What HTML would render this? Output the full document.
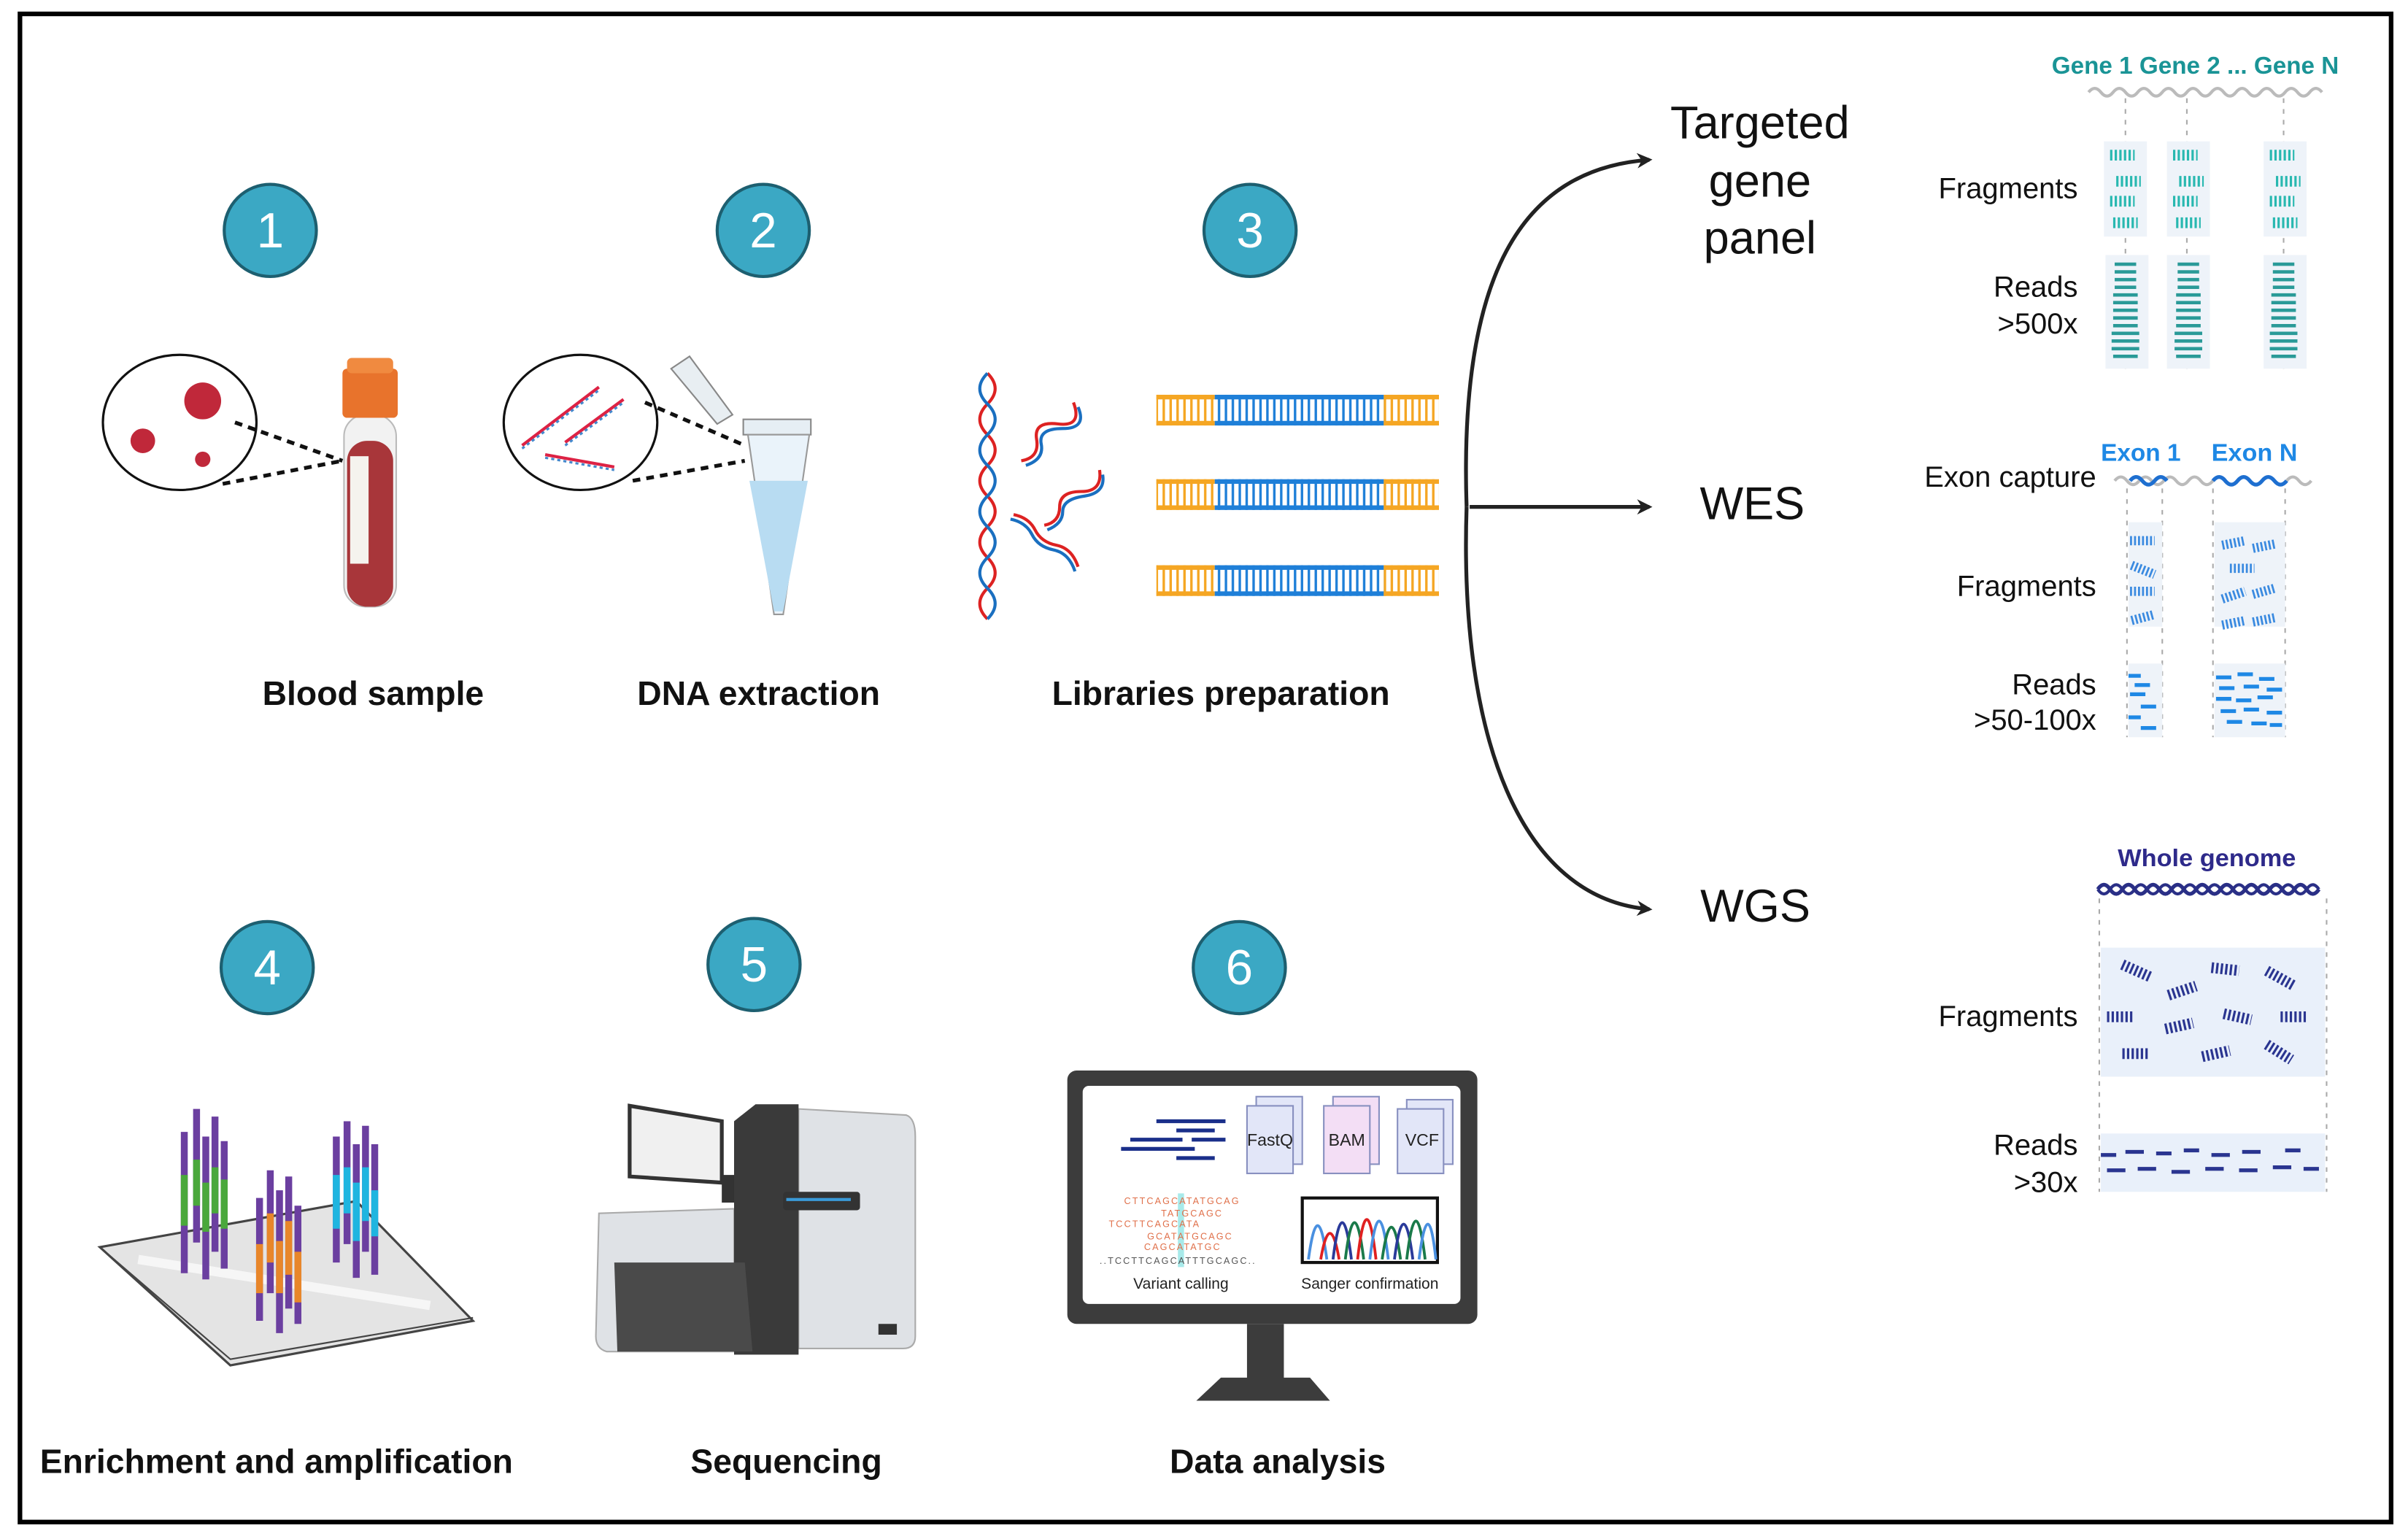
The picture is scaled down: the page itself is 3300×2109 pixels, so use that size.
<!DOCTYPE html>
<html><head><meta charset="utf-8"><style>
html,body{margin:0;padding:0;background:#fff}
svg{display:block}
text{font-family:"Liberation Sans",sans-serif}
</style></head><body>
<svg width="3300" height="2109" viewBox="0 0 1568 1002" xmlns="http://www.w3.org/2000/svg">
<defs>
<pattern id="rungO" width="4.5" height="30" patternUnits="userSpaceOnUse"><rect x="1" y="0" width="1.6" height="30" fill="#f5a623"/></pattern>
<pattern id="rungB" width="4.5" height="30" patternUnits="userSpaceOnUse"><rect x="1" y="0" width="1.6" height="30" fill="#1e7fd8"/></pattern>
<marker id="ah" markerWidth="10" markerHeight="10" refX="8" refY="5" orient="auto" markerUnits="userSpaceOnUse"><path d="M0,0 L10,5 L0,10 L3,5 Z" fill="#222"/></marker>
</defs>
<rect x="0" y="0" width="1568" height="1002" fill="#fff"/>
<rect x="13" y="9" width="1544" height="982" fill="none" stroke="#000" stroke-width="3"/>

<g fill="#3ba8c4" stroke="#1d5f70" stroke-width="2">
<circle cx="176" cy="150" r="30"/><circle cx="497" cy="150" r="30"/><circle cx="814" cy="150" r="30"/>
<circle cx="174" cy="630" r="30"/><circle cx="491" cy="628" r="30"/><circle cx="807" cy="630" r="30"/>
</g>
<g fill="#fff" font-size="32" text-anchor="middle">
<text x="176" y="161">1</text><text x="497" y="161">2</text><text x="814" y="161">3</text>
<text x="174" y="641">4</text><text x="491" y="639">5</text><text x="807" y="641">6</text>
</g>

<g font-size="22" font-weight="bold" text-anchor="middle" fill="#111">
<text x="243" y="459">Blood sample</text>
<text x="494" y="459">DNA extraction</text>
<text x="795" y="459">Libraries preparation</text>
<text x="180" y="959">Enrichment and amplification</text>
<text x="512" y="959">Sequencing</text>
<text x="832" y="959">Data analysis</text>
</g>

<ellipse cx="117" cy="275" rx="50" ry="44" fill="#fff" stroke="#111" stroke-width="1.5"/>
<circle cx="132" cy="261" r="12" fill="#c0283a"/>
<circle cx="93" cy="287" r="8" fill="#c0283a"/>
<circle cx="132" cy="299" r="5" fill="#c0283a"/>
<path d="M153,275 L223,300 M145,315 L223,300" stroke="#111" stroke-width="2.5" stroke-dasharray="5,4"/>
<rect x="224" y="270" width="34" height="125" rx="14" fill="#f2f2f2" stroke="#bbb"/>
<rect x="226" y="287" width="30" height="108" rx="13" fill="#a8363a"/>
<rect x="228" y="297" width="12" height="70" fill="#f5f3ee"/>
<rect x="223" y="240" width="36" height="32" rx="3" fill="#e8732c"/>
<rect x="226" y="233" width="30" height="10" rx="3" fill="#f08a40"/>

<ellipse cx="378" cy="275" rx="50" ry="44" fill="#fff" stroke="#111" stroke-width="1.5"/>
<path d="M340,290 l50,-38" stroke="#d24" stroke-width="2"/><path d="M340,292 l50,-38" stroke="#48c" stroke-width="1.5" stroke-dasharray="2,2"/>
<path d="M368,288 l38,-28" stroke="#d24" stroke-width="2"/><path d="M368,290 l38,-28" stroke="#48c" stroke-width="1.5" stroke-dasharray="2,2"/>
<path d="M355,296 l45,8" stroke="#d24" stroke-width="2"/><path d="M355,298 l45,8" stroke="#48c" stroke-width="1.5" stroke-dasharray="2,2"/>
<path d="M420,262 L485,290 M412,313 L485,300" stroke="#111" stroke-width="2.5" stroke-dasharray="5,4"/>
<path d="M437,240 l12,-8 l28,38 l-10,6 Z" fill="#e8eef2" stroke="#888"/>
<rect x="484" y="273" width="44" height="10" fill="#e6eef4" stroke="#888"/>
<path d="M487,283 L527,283 L510,400 L504,400 Z" fill="#eaf3fa" stroke="#999"/>
<path d="M488,313 L526,313 L510,398 L504,398 Z" fill="#b8dcf2"/>

<path d="M643,243 q10,10 0,20 t0,20 t0,20 t0,20 t0,20 t0,20 t0,20 t0,20" fill="none" stroke="#d22" stroke-width="2"/>
<path d="M643,243 q-10,10 0,20 t0,20 t0,20 t0,20 t0,20 t0,20 t0,20 t0,20" fill="none" stroke="#1a6fc0" stroke-width="2"/>
<g stroke-width="2" fill="none">
<path d="M665,300 q12,-2 10,-14 t14,-10 t10,-14" stroke="#d22"/><path d="M668,303 q12,-4 10,-14 t14,-10 t10,-14" stroke="#1a6fc0"/>
<path d="M680,342 q10,-2 10,-12 t14,-10 t12,-14" stroke="#d22"/><path d="M682,345 q10,-4 10,-12 t14,-10 t12,-14" stroke="#1a6fc0"/>
<path d="M660,335 q10,2 14,10 t14,10 t14,14" stroke="#d22"/><path d="M658,338 q10,2 14,10 t14,10 t14,14" stroke="#1a6fc0"/>
</g>
<g>
<g transform="translate(0,257)"><rect x="753" y="0" width="38" height="20" fill="url(#rungO)"/><rect x="791" y="0" width="110" height="20" fill="url(#rungB)"/><rect x="901" y="0" width="36" height="20" fill="url(#rungO)"/>
<rect x="753" y="0" width="38" height="3" fill="#f5a623"/><rect x="753" y="17" width="38" height="3" fill="#f5a623"/><rect x="901" y="0" width="36" height="3" fill="#f5a623"/><rect x="901" y="17" width="36" height="3" fill="#f5a623"/><rect x="791" y="0" width="110" height="3" fill="#1e7fd8"/><rect x="791" y="17" width="110" height="3" fill="#1e7fd8"/></g>
<g transform="translate(0,312)"><rect x="753" y="0" width="38" height="20" fill="url(#rungO)"/><rect x="791" y="0" width="110" height="20" fill="url(#rungB)"/><rect x="901" y="0" width="36" height="20" fill="url(#rungO)"/>
<rect x="753" y="0" width="38" height="3" fill="#f5a623"/><rect x="753" y="17" width="38" height="3" fill="#f5a623"/><rect x="901" y="0" width="36" height="3" fill="#f5a623"/><rect x="901" y="17" width="36" height="3" fill="#f5a623"/><rect x="791" y="0" width="110" height="3" fill="#1e7fd8"/><rect x="791" y="17" width="110" height="3" fill="#1e7fd8"/></g>
<g transform="translate(0,368)"><rect x="753" y="0" width="38" height="20" fill="url(#rungO)"/><rect x="791" y="0" width="110" height="20" fill="url(#rungB)"/><rect x="901" y="0" width="36" height="20" fill="url(#rungO)"/>
<rect x="753" y="0" width="38" height="3" fill="#f5a623"/><rect x="753" y="17" width="38" height="3" fill="#f5a623"/><rect x="901" y="0" width="36" height="3" fill="#f5a623"/><rect x="901" y="17" width="36" height="3" fill="#f5a623"/><rect x="791" y="0" width="110" height="3" fill="#1e7fd8"/><rect x="791" y="17" width="110" height="3" fill="#1e7fd8"/></g>
</g>

<g stroke="#222" stroke-width="2.5" fill="none" marker-end="url(#ah)">
<path d="M955,330 C950,180 990,110 1074,104"/>
<path d="M957,330 L1074,330"/>
<path d="M955,330 C950,480 990,585 1074,592"/>
</g>
<g font-size="30" text-anchor="middle" fill="#111">
<text x="1146" y="90">Targeted</text><text x="1146" y="128">gene</text><text x="1146" y="165">panel</text>
<text x="1141" y="338">WES</text><text x="1143" y="600">WGS</text>
</g>

<text x="1336" y="48" font-size="16" font-weight="bold" fill="#1a9496" textLength="187" lengthAdjust="spacingAndGlyphs">Gene 1 Gene 2 ... Gene N</text>
<path d="M1360,60 q4,-5 8,0 t8,0 t8,0 t8,0 t8,0 t8,0 t8,0 t8,0 t8,0 t8,0 t8,0 t8,0 t8,0 t8,0 t8,0 t8,0 t8,0 t8,0 t8,0" stroke="#bbb" stroke-width="2" fill="none"/>
<g stroke="#aaa" stroke-dasharray="3,4"><path d="M1384,64V240M1424,64V240M1487,64V240"/></g>
<g fill="#eef3f9"><rect x="1370" y="92" width="28" height="62"/><rect x="1411" y="92" width="28" height="62"/><rect x="1474" y="92" width="28" height="62"/>
<rect x="1371" y="166" width="28" height="74"/><rect x="1411" y="166" width="28" height="74"/><rect x="1474" y="166" width="28" height="74"/></g>
<g stroke="#28b8b0" stroke-width="2">
<path d="M1374,101h16M1378,118h16M1374,131h16M1376,145h16 M1415,101h16M1419,118h16M1415,131h16M1417,145h16 M1478,101h16M1482,118h16M1478,131h16M1480,145h16" stroke-dasharray="1.5,1.5" stroke-width="7"/>
</g>
<g stroke="#2a9a98" stroke-width="2.2">
<path d="M1377,172h14M1377,177h14M1377,182h14M1377,187h14M1376,192h16M1376,197h16M1376,202h16M1376,207h16M1376,212h16M1375,217h18M1375,222h18M1375,227h18M1376,232h16"/>
<path d="M1418,172h14M1418,177h14M1418,182h14M1418,187h14M1417,192h16M1417,197h16M1417,202h16M1417,207h16M1417,212h16M1416,217h18M1416,222h18M1416,227h18M1417,232h16"/>
<path d="M1480,172h14M1480,177h14M1480,182h14M1480,187h14M1479,192h16M1479,197h16M1479,202h16M1479,207h16M1479,212h16M1478,217h18M1478,222h18M1478,227h18M1479,232h16"/>
</g>
<g font-size="19" fill="#111" text-anchor="end">
<text x="1353" y="129">Fragments</text><text x="1353" y="193">Reads</text><text x="1353" y="217">&gt;500x</text>
<text x="1365" y="317">Exon capture</text>
<text x="1365" y="388">Fragments</text><text x="1365" y="452">Reads</text><text x="1365" y="475">&gt;50-100x</text>
<text x="1353" y="668">Fragments</text><text x="1353" y="752">Reads</text><text x="1353" y="776">&gt;30x</text>
</g>

<g font-size="16" font-weight="bold" fill="#1e88e5"><text x="1368" y="300" textLength="52" lengthAdjust="spacingAndGlyphs">Exon 1</text><text x="1440" y="300" textLength="56" lengthAdjust="spacingAndGlyphs">Exon N</text></g>
<path d="M1377,313 q4,-5 8,0 t8,0 t8,0 t8,0 t8,0 t8,0 t8,0 t8,0 t8,0 t8,0 t8,0 t8,0 t8,0 t8,0 t8,0 t8,0" stroke="#bbb" stroke-width="2" fill="none"/>
<path d="M1387,313 q4,-5 8,0 t8,0 t8,0 M1441,313 q4,-5 8,0 t8,0 t8,0 t8,0 t8,0 t8,0" stroke="#1e6fd0" stroke-width="2.5" fill="none"/>
<g stroke="#aaa" stroke-dasharray="3,4"><path d="M1385,318V480M1408,318V480M1441,318V480M1488,318V480"/></g>
<g fill="#eef3f9"><rect x="1386" y="340" width="22" height="68"/><rect x="1442" y="340" width="46" height="68"/><rect x="1386" y="432" width="22" height="48"/><rect x="1442" y="432" width="46" height="48"/></g>
<g stroke="#3a8ae0" stroke-width="6" stroke-dasharray="1.3,1.3">
<path d="M1387,352h16M1388,368l15,6M1387,385h16M1388,404l15,-4 M1447,355l15,-3M1467,357l15,-3M1452,370h16M1447,390l15,-5M1467,387l14,-4M1447,407l15,-3M1467,405l15,-3"/>
</g>
<g stroke="#1e88e5" stroke-width="2.5">
<path d="M1386,440h8M1390,446h10M1387,452h10M1394,460h10M1386,467h8M1394,474h10 M1443,441h10M1457,439h10M1471,442h10M1445,448h10M1461,447h10M1476,449h10M1443,455h10M1456,456h10M1470,454h10M1446,463h10M1461,462h10M1476,464h10M1450,470h10M1466,471h10M1478,472h8"/>
</g>

<text x="1437" y="564" font-size="16" font-weight="bold" fill="#2e2a8a" text-anchor="middle" textLength="116" lengthAdjust="spacingAndGlyphs">Whole genome</text>
<path d="M1366,579 q4,-6 8,0 t8,0 t8,0 t8,0 t8,0 t8,0 t8,0 t8,0 t8,0 t8,0 t8,0 t8,0 t8,0 t8,0 t8,0 t8,0 t8,0 t8,0" stroke="#2a2f86" stroke-width="2.5" fill="none"/>
<path d="M1366,579 q4,6 8,0 t8,0 t8,0 t8,0 t8,0 t8,0 t8,0 t8,0 t8,0 t8,0 t8,0 t8,0 t8,0 t8,0 t8,0 t8,0 t8,0 t8,0" stroke="#2a2f86" stroke-width="2" fill="none"/>
<g stroke="#aaa" stroke-dasharray="3,4"><path d="M1367,585V776M1515,585V776"/></g>
<rect x="1368" y="617" width="146" height="84" fill="#e9f0fa"/>
<rect x="1368" y="738" width="146" height="38" fill="#e9f0fa"/>
<g stroke="#2a3590" stroke-width="7" stroke-dasharray="1.5,1.5">
<path d="M1382,628l18,8M1412,648l18,-6M1440,630l18,2M1476,632l18,10M1372,662h18M1410,670l18,-4M1448,660l18,4M1485,662h18M1382,686h18M1434,688l18,-4M1476,680l16,10"/>
</g>
<g stroke="#2a3590" stroke-width="2.5">
<path d="M1368,752h10M1384,750h12M1404,751h10M1422,749h10M1440,752h12M1460,750h12M1488,749h10M1372,762h12M1392,761h12M1414,763h12M1436,761h12M1458,762h12M1480,760h12M1500,761h10"/>
</g>

<path d="M65,812 L232,782 L308,860 L150,889 Z" fill="#e4e4e4" stroke="#444" stroke-width="1.5"/>
<path d="M65,812 L150,885 L308,858" fill="none" stroke="#444" stroke-width="1"/>
<path d="M90,820 L280,850" stroke="#f6f6f6" stroke-width="6"/>
<g stroke-width="4.5">
<g stroke="#6b3fa0"><path d="M120,737V829M128,722V809M134,740V833M140,727V815M146,743V826"/></g>
<g stroke="#4aa83c"><path d="M120,765V798M128,755V785M134,770V802M140,760V790M146,768V800"/></g>
<g stroke="#6b3fa0"><path d="M169,780V860M176,762V842M182,775V868M188,766V852M194,785V862"/></g>
<g stroke="#e8862a"><path d="M169,810V842M176,790V822M182,808V842M188,795V830M194,815V848"/></g>
<g stroke="#6b3fa0"><path d="M219,740V822M226,730V810M232,745V832M238,733V815M244,745V830"/></g>
<g stroke="#1fb5e0"><path d="M219,765V800M226,760V790M232,770V808M238,760V795M244,775V805"/></g>
</g>

<path d="M390,790 L478,787 L478,880 L395,880 Q388,878 388,870 Z" fill="#dfe2e6" stroke="#aaa"/>
<path d="M520,722 L590,726 Q596,728 596,740 L596,870 Q596,878 588,878 L520,878 Z" fill="#dfe2e6" stroke="#aaa"/>
<path d="M410,720 L470,730 L470,770 L410,766 Z" fill="#f0f0f0" stroke="#333" stroke-width="2.5"/>
<rect x="470" y="765" width="22" height="18" fill="#333"/>
<path d="M478,730 L492,719 L520,719 L520,882 L478,882 Z" fill="#3a3a3a"/>
<rect x="510" y="776" width="50" height="12" rx="2" fill="#333"/><rect x="512" y="780" width="42" height="2" fill="#3a9ad8"/>
<path d="M400,822 L485,822 L490,880 L402,880 Z" fill="#4a4a4a"/>
<rect x="572" y="862" width="12" height="7" fill="#333"/>

<rect x="695" y="697" width="267" height="165" rx="6" fill="#3c3c3c"/>
<rect x="705" y="707" width="246" height="142" rx="4" fill="#fff"/>
<rect x="812" y="862" width="24" height="38" fill="#3c3c3c"/>
<path d="M795,897 L853,897 L866,912 L779,912 Z" fill="#3c3c3c"/>
<g stroke="#1a2f8a" stroke-width="2.5"><path d="M753,730h45M766,736h25M736,742h34M776,742h22M730,748h48M766,754h25"/></g>
<g stroke="#8890c0" stroke-width="1">
<rect x="818" y="714" width="30" height="44" fill="#e2e6f8"/><rect x="812" y="720" width="30" height="44" fill="#e2e6f8"/>
<rect x="868" y="714" width="30" height="44" fill="#f3def5"/><rect x="862" y="720" width="30" height="44" fill="#f3def5"/>
<rect x="916" y="716" width="30" height="42" fill="#e2e6f8"/><rect x="910" y="722" width="30" height="42" fill="#e2e6f8"/>
</g>
<g font-size="11" fill="#222" text-anchor="middle"><text x="827" y="746">FastQ</text><text x="877" y="746">BAM</text><text x="926" y="746">VCF</text></g>
<rect x="767" y="777" width="4" height="48" fill="#a8eaea"/>
<g font-size="6" fill="#e0704a" font-family="Liberation Mono,monospace" letter-spacing="1">
<text x="732" y="784">CTTCAGCATATGCAG</text><text x="756" y="792">TATGCAGC</text><text x="722" y="799">TCCTTCAGCATA</text><text x="747" y="807">GCATATGCAGC</text><text x="745" y="814">CAGCATATGC</text>
<text x="716" y="823" fill="#555">..TCCTTCAGCATTTGCAGC..</text></g>
<rect x="848" y="780" width="88" height="42" fill="#fff" stroke="#111" stroke-width="2"/>
<g fill="none" stroke-width="1.8">
<path d="M852,820 Q858,776 864,820" stroke="#4a90e0"/><path d="M860,820 Q866,786 872,820" stroke="#e02020"/><path d="M868,820 Q874,772 880,820" stroke="#2a3a9a"/><path d="M876,820 Q882,772 888,820" stroke="#1a7a4a"/><path d="M884,820 Q890,768 896,820" stroke="#e02020"/><path d="M892,820 Q898,770 904,820" stroke="#4a90e0"/><path d="M900,820 Q906,778 912,820" stroke="#1a7a4a"/><path d="M908,820 Q914,774 920,820" stroke="#2a3a9a"/><path d="M916,820 Q922,770 928,820" stroke="#1a7a4a"/><path d="M924,820 Q930,774 935,820" stroke="#4a90e0"/>
</g>
<g font-size="10" fill="#222" text-anchor="middle"><text x="769" y="839">Variant calling</text><text x="892" y="839">Sanger confirmation</text></g>
</svg>
</body></html>
